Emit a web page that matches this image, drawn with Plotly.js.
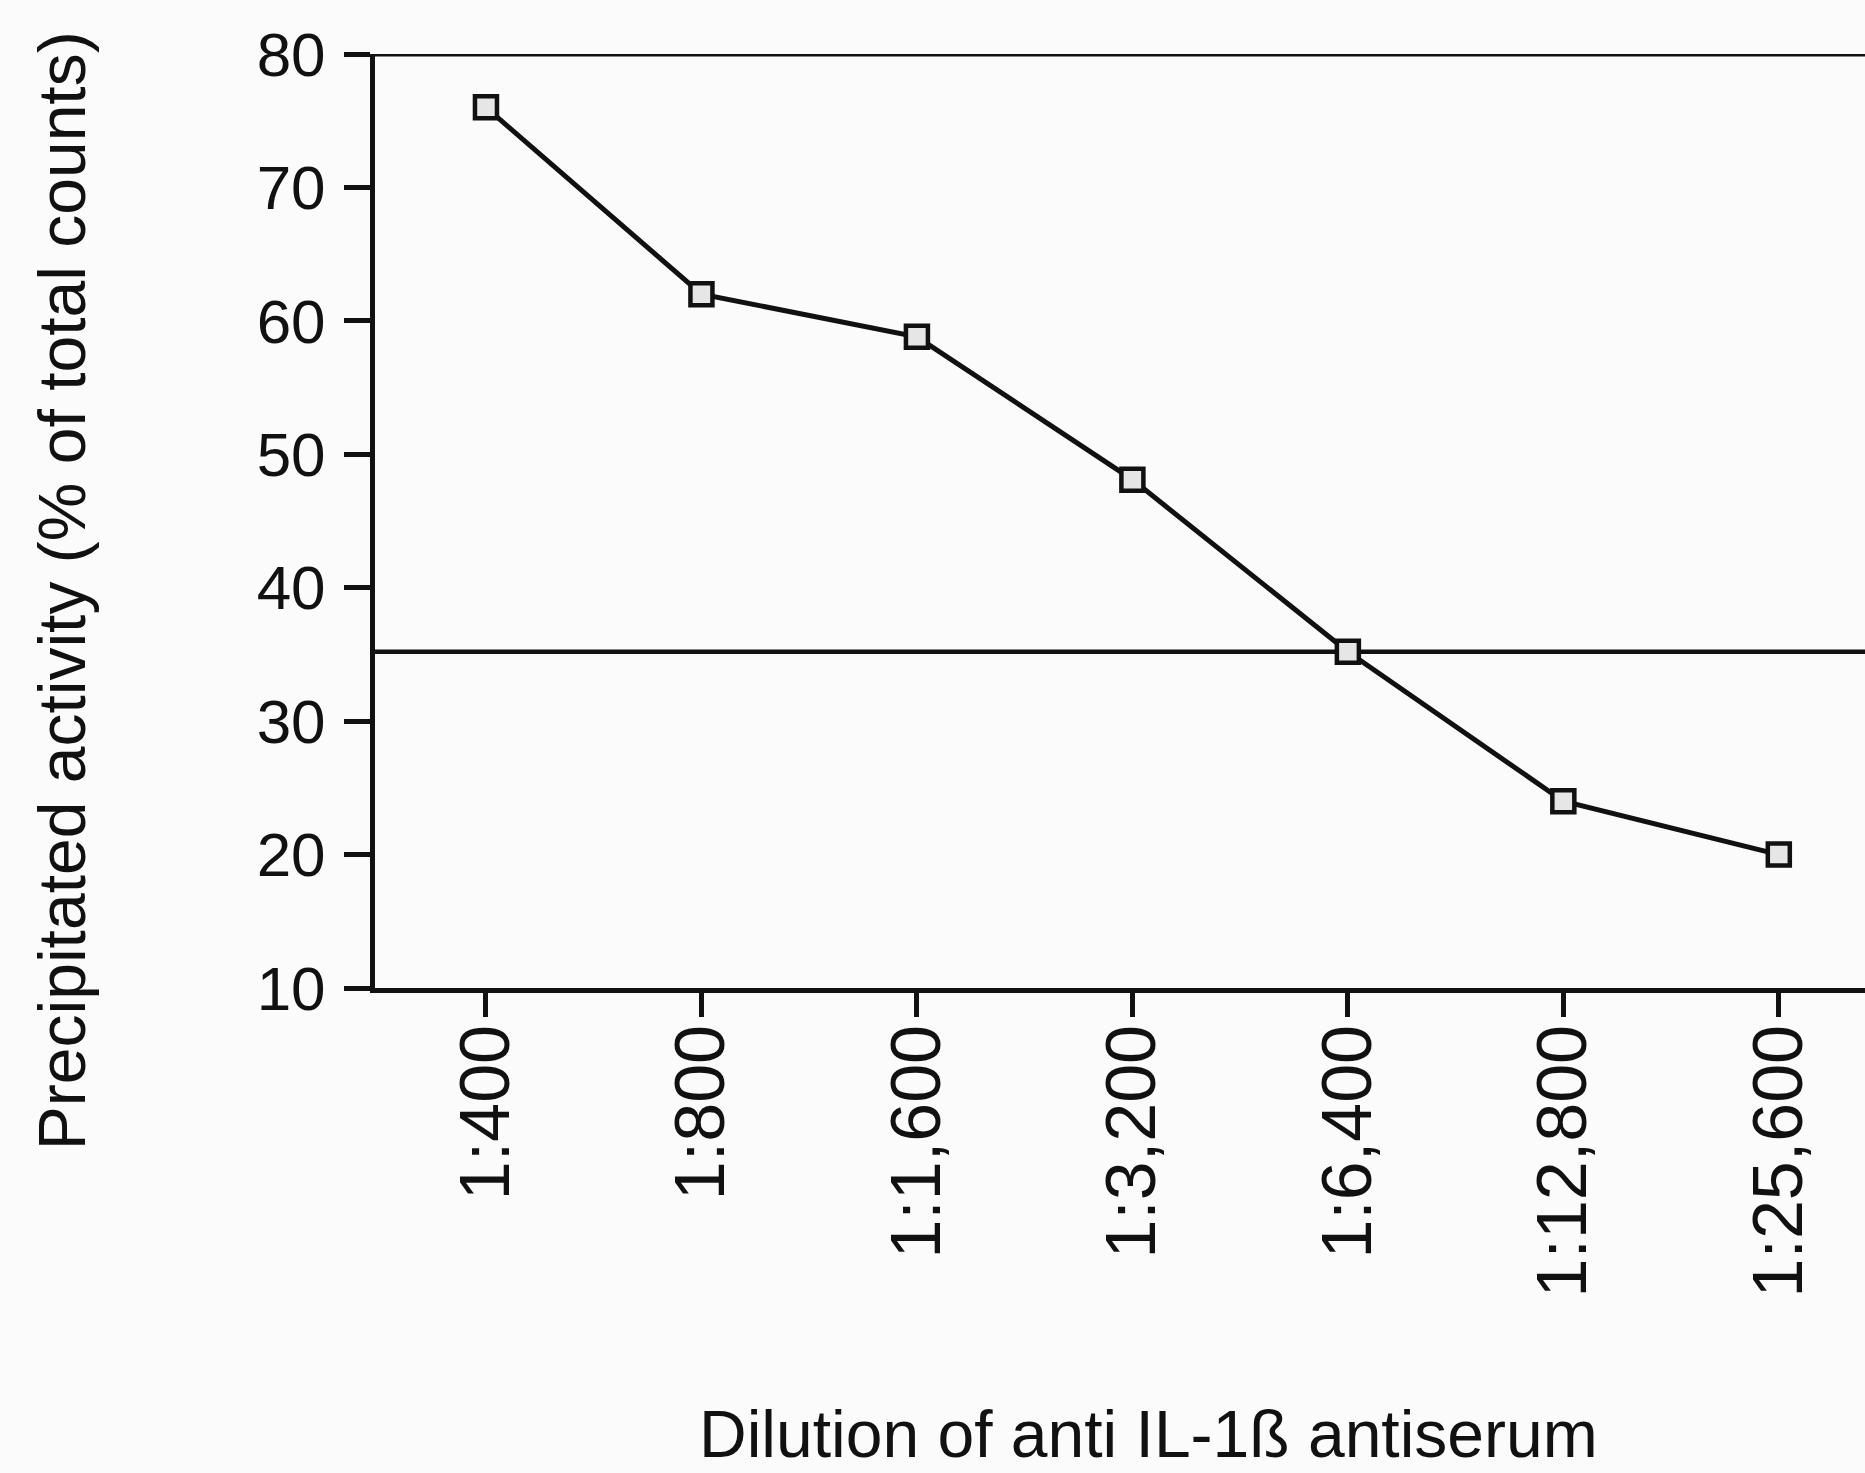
<!DOCTYPE html>
<html>
<head>
<meta charset="utf-8">
<script src="https://cdn.plot.ly/plotly-3.0.1.min.js"></script>
<style>
  html, body { margin: 0; padding: 0; background: #fbfbfb; }
  #chart { width: 1865px; height: 1473px; }
</style>
</head>
<body>
<div id="chart"></div>
<script>
// Data
const dilutions = ["1:400", "1:800", "1:1,600", "1:3,200", "1:6,400", "1:12,800", "1:25,600"];
const precipitated = [76.0, 62.0, 58.8, 48.1, 35.2, 24.0, 20.0];
const referenceLevel = 35.2;
const yTicks = [10, 20, 30, 40, 50, 60, 70, 80];
const xTitle = "Dilution of anti IL-1ß antiserum";
const yTitle = "Precipitated activity (% of total counts)";

const font = "Liberation Sans, Arial, Helvetica, sans-serif";
const ink = "#111111";

const trace = {
  x: dilutions,
  y: precipitated,
  type: "scatter",
  mode: "lines+markers",
  line: { color: ink, width: 5 },
  marker: { symbol: "square", size: 22, color: "#e6e6e6", line: { color: ink, width: 4.5 } },
  showlegend: false,
  hoverinfo: "x+y"
};

const layout = {
  width: 1865,
  height: 1473,
  paper_bgcolor: "#fbfbfb",
  plot_bgcolor: "#fbfbfb",
  margin: { l: 375, r: 0, t: 54, b: 485, pad: 0 },
  font: { family: font, color: ink },
  xaxis: {
    type: "category",
    range: [-0.515, 6.4],
    showline: true,
    linecolor: ink,
    linewidth: 5,
    showgrid: false,
    zeroline: false,
    ticks: "outside",
    ticklen: 24,
    tickwidth: 5,
    tickcolor: ink,
    tickangle: -90,
    ticklabelstandoff: -20,
    tickfont: { family: font, size: 70, color: ink }
  },
  yaxis: {
    range: [10, 80],
    tickvals: yTicks,
    ticktext: yTicks.map(String),
    showline: true,
    linecolor: ink,
    linewidth: 5,
    showgrid: false,
    zeroline: false,
    ticks: "outside",
    ticklen: 26,
    tickwidth: 5,
    tickcolor: ink,
    ticklabelstandoff: 6,
    tickfont: { family: font, size: 62, color: ink }
  },
  shapes: [
    { type: "line", xref: "paper", yref: "y", x0: 0, x1: 1, y0: 80, y1: 80, line: { color: ink, width: 5 } },
    { type: "line", xref: "paper", yref: "y", x0: 0, x1: 1, y0: referenceLevel, y1: referenceLevel, line: { color: ink, width: 4.5 }, layer: "below" }
  ],
  annotations: [
    { text: xTitle, xref: "paper", yref: "paper", x: 0.519, y: -0.478, xanchor: "center", yanchor: "middle",
      showarrow: false, font: { family: font, size: 66, color: ink } },
    { text: yTitle, xref: "paper", yref: "paper", x: -0.210, y: 0.425, xanchor: "center", yanchor: "middle",
      textangle: -90, showarrow: false, font: { family: font, size: 66, color: ink } }
  ]
};

Plotly.newPlot("chart", [trace], layout, { displayModeBar: false, staticPlot: true });
</script>
</body>
</html>
